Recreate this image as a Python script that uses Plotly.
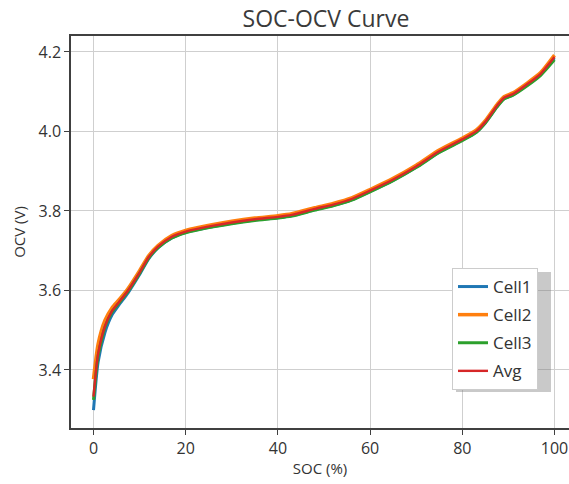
import plotly.graph_objects as go

soc = [0, 1, 2.5, 4, 5.5, 7.5, 10, 12, 14, 17, 20, 23, 26, 30, 35, 40, 43, 48,
       52, 56, 60, 65, 70, 75, 80, 83, 85, 87.5, 89, 91, 94, 97, 100]

avg = [3.333, 3.440, 3.510, 3.548, 3.570, 3.600, 3.645, 3.684, 3.710, 3.735,
       3.748, 3.756, 3.763, 3.771, 3.779, 3.785, 3.790, 3.805, 3.816, 3.830,
       3.851, 3.879, 3.912, 3.950, 3.980, 4.000, 4.024, 4.064, 4.084, 4.094,
       4.118, 4.145, 4.187]

cell1 = [3.299, 3.420, 3.495, 3.538, 3.563, 3.594, 3.640, 3.680, 3.707, 3.732,
         3.746, 3.754, 3.761, 3.769, 3.777, 3.783, 3.788, 3.803, 3.814, 3.828,
         3.849, 3.877, 3.910, 3.948, 3.978, 3.998, 4.022, 4.062, 4.082, 4.092,
         4.116, 4.143, 4.185]

cell2 = [3.377, 3.465, 3.525, 3.556, 3.576, 3.605, 3.650, 3.688, 3.713, 3.738,
         3.751, 3.759, 3.766, 3.774, 3.782, 3.788, 3.793, 3.808, 3.819, 3.833,
         3.854, 3.882, 3.915, 3.953, 3.983, 4.003, 4.027, 4.067, 4.087, 4.097,
         4.121, 4.148, 4.192]

cell3 = [3.325, 3.435, 3.508, 3.546, 3.568, 3.598, 3.643, 3.682, 3.708, 3.732,
         3.745, 3.753, 3.760, 3.768, 3.776, 3.782, 3.787, 3.802, 3.813, 3.827,
         3.848, 3.876, 3.909, 3.947, 3.977, 3.997, 4.021, 4.061, 4.081, 4.091,
         4.114, 4.141, 4.180]

names = ["Cell1", "Cell2", "Cell3", "Avg"]
series = [cell1, cell2, cell3, avg]
colors = ["#1f77b4", "#ff7f0e", "#2ca02c", "#d62728"]
widths = [3, 3.5, 3, 2.4]

x_ticks = [0, 20, 40, 60, 80, 100]
y_ticks = [3.4, 3.6, 3.8, 4.0, 4.2]
y_tick_text = ["3.4", "3.6", "3.8", "4.0", "4.2"]

fig = go.Figure()
for name, ys, col, w in zip(names, series, colors, widths):
    fig.add_trace(go.Scatter(
        x=soc, y=ys, name=name, mode="lines", legendgroup=name,
        line=dict(color=col, width=w, shape="spline", smoothing=0.6),
    ))

font_family = "Open Sans"
axis_col = "#404040"
W, H = 569, 484
L, R, T, B = 71, 0, 36, 56
pw, ph = W - L - R, H - T - B

def px_x(p):
    return (p - L) / pw

def px_y(p):
    return (H - B - p) / ph

# legend drop shadow (matplotlib style)
fig.add_shape(type="rect", xref="paper", yref="paper",
              x0=px_x(456), x1=px_x(551), y0=px_y(392), y1=px_y(272),
              fillcolor="rgba(120,120,120,0.4)", line=dict(width=0), layer="above")

fig.update_layout(
    width=W, height=H,
    margin=dict(l=L, r=R, t=T, b=B),
    paper_bgcolor="white", plot_bgcolor="white",
    font=dict(family=font_family, color="#333333", size=15),
    title=dict(text="SOC-OCV Curve", x=0.512, xref="paper", xanchor="center",
               y=1 - 19 / H, yref="container", yanchor="middle",
               font=dict(size=23, color="#3a3a3a")),
    showlegend=True,
    legend=dict(x=px_x(452), y=px_y(268), xanchor="left", yanchor="top",
                bgcolor="white", bordercolor="#cccccc", borderwidth=1,
                font=dict(size=17, color="#333333"), tracegroupgap=3,
                entrywidth=52, entrywidthmode="pixels"),
    xaxis=dict(range=[-4.88, 103.15], tickvals=x_ticks,
               showgrid=True, gridcolor="#cfcfcf", gridwidth=1.4,
               showline=True, linecolor=axis_col, linewidth=1.5, mirror=True,
               ticks="outside", ticklen=5, tickcolor=axis_col, zeroline=False,
               tickfont=dict(size=16),
               title=dict(text="SOC (%)", standoff=6, font=dict(size=15))),
    yaxis=dict(range=[3.254, 4.240], tickvals=y_ticks, ticktext=y_tick_text,
               showgrid=True, gridcolor="#cfcfcf", gridwidth=1.4,
               showline=True, linecolor=axis_col, linewidth=1.5,
               ticks="outside", ticklen=5, tickcolor=axis_col, zeroline=False,
               tickfont=dict(size=16),
               title=dict(text="OCV (V)", standoff=9, font=dict(size=15))),
)

fig.write_html("out.html",
               config={"displayModeBar": False},
               post_script="document.body.style.margin='0px';"
                           "document.body.style.overflow='hidden';")
